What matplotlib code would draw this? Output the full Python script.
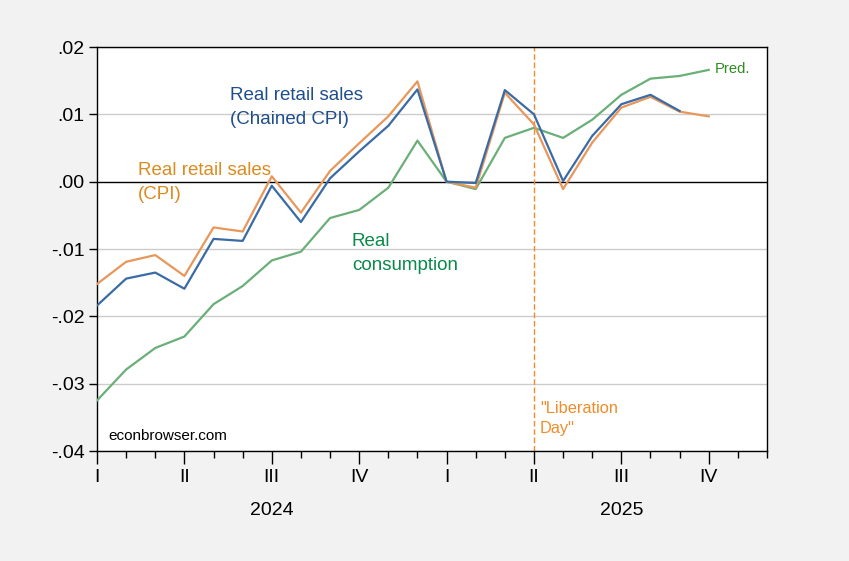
import matplotlib
matplotlib.use("Agg")
import matplotlib.pyplot as plt
import numpy as np

plt.rcParams['font.family'] = ['Liberation Sans', 'DejaVu Sans']

# month index 0 = Jan 2024
chained_cpi = [-0.0184, -0.0144, -0.0135, -0.0159, -0.0085, -0.0088, -0.0006, -0.0060,
               0.0005, 0.0045, 0.0083, 0.0137, 0.0000, -0.0002, 0.0136, 0.0100,
               0.0001, 0.0068, 0.0115, 0.0129, 0.0105]
cpi = [-0.0152, -0.0119, -0.0109, -0.0140, -0.0068, -0.0074, 0.0008, -0.0046,
       0.0016, 0.0057, 0.0097, 0.0149, 0.0000, -0.0009, 0.0132, 0.0085,
       -0.0011, 0.0058, 0.0110, 0.0126, 0.0104, 0.0097]
consumption = [-0.0325, -0.0279, -0.0247, -0.0230, -0.0182, -0.0155, -0.0117, -0.0104,
               -0.0054, -0.0042, -0.0009, 0.0061, 0.0000, -0.0011, 0.0065, 0.0080,
               0.0065, 0.0092, 0.0129, 0.0153, 0.0157, 0.0166]
quarter_labels = ['I', 'II', 'III', 'IV', 'I', 'II', 'III', 'IV']
years = ['2024', '2025']
ytick_vals = [-0.04, -0.03, -0.02, -0.01, 0.0, 0.01, 0.02]
ytick_labels = ['-.04', '-.03', '-.02', '-.01', '.00', '.01', '.02']
liberation_month = 15

fig = plt.figure(figsize=(8.49, 5.61), dpi=100, facecolor='#F2F2F2')
ax = fig.add_axes([97/849, 1 - 451/561, (767 - 97)/849, (451 - 47)/561])
ax.set_facecolor('white')

for y in ytick_vals:
    if y != 0:
        ax.axhline(y, color='#CCCCCC', lw=1, zorder=1)
ax.axhline(0, color='black', lw=1, zorder=2)
ax.axvline(liberation_month, color='#F08A24', lw=1, ls=(0, (4, 2)), zorder=2)

ax.plot(np.arange(len(consumption)), consumption, color='#6AAF78', lw=1.6, zorder=3)
ax.plot(np.arange(len(cpi)), cpi, color='#E8975A', lw=1.6, zorder=4)
ax.plot(np.arange(len(chained_cpi)), chained_cpi, color='#3B6BA5', lw=1.6, zorder=5)

ax.set_xlim(0, 23)
ax.set_ylim(-0.04, 0.02)
ax.set_yticks(ytick_vals)
ax.set_yticklabels(ytick_labels, fontsize=14)
ax.set_xticks(np.arange(0, 24, 3))
ax.set_xticks(np.arange(0, 24), minor=True)
ax.set_xticklabels(quarter_labels, fontsize=14)
ax.tick_params(axis='x', which='major', length=9, width=1, direction='out', pad=4)
ax.tick_params(axis='x', which='minor', length=5, width=1, direction='out')
ax.tick_params(axis='y', which='major', length=6, width=1, direction='out', pad=3)
for s in ax.spines.values():
    s.set_color('black')
    s.set_linewidth(1)

for i, yr in enumerate(years):
    ax.text(6 + 12 * i, -0.0489, yr, ha='center', va='center', fontsize=14,
            clip_on=False)

ax.text(4.57, 0.0110, 'Real retail sales\n(Chained CPI)', color='#1F4E8C', fontsize=13.5,
        va='center', ha='left', linespacing=1.5)
ax.text(1.4, -0.0001, 'Real retail sales\n(CPI)', color='#DB8B1F', fontsize=13.5,
        va='center', ha='left', linespacing=1.5)
ax.text(8.75, -0.0107, 'Real\nconsumption', color='#0A8A4A', fontsize=13.5,
        va='center', ha='left', linespacing=1.5)
ax.text(21.2, 0.0167, 'Pred.', color='#2E8B22', fontsize=10.6, va='center', ha='left')
ax.text(15.2, -0.0352, '"Liberation\nDay"', color='#F28C28', fontsize=11.8,
        va='center', ha='left', linespacing=1.45)
ax.text(0.38, -0.0377, 'econbrowser.com', color='black', fontsize=11, va='center', ha='left')

fig.savefig('out.png', dpi=100, facecolor=fig.get_facecolor())
